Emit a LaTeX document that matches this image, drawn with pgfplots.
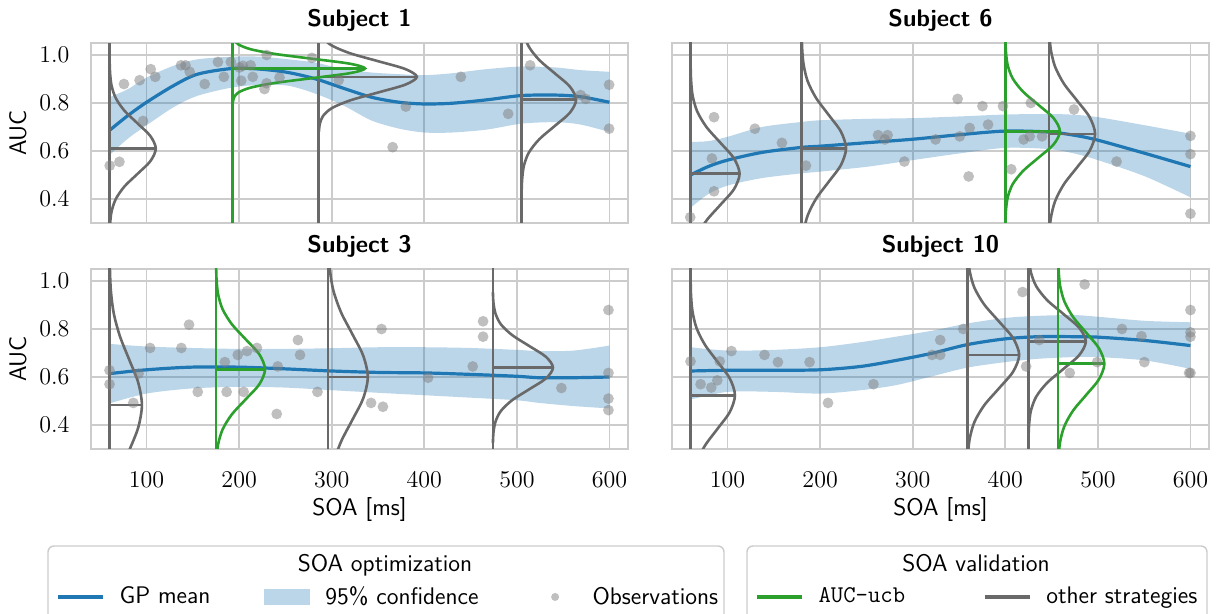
\documentclass[border=0pt]{standalone}
\usepackage{fontspec}
\usepackage{pgfplots}
\pgfplotsset{compat=1.18}
\usepgfplotslibrary{fillbetween}

\definecolor{c0}{RGB}{31,119,180}
\definecolor{c2}{RGB}{44,160,44}
\definecolor{dimg}{RGB}{105,105,105}
\definecolor{gridc}{RGB}{204,204,204}

\pgfplotsset{
  panel/.style={
    scale only axis, width=268.5pt, height=90pt, anchor=south west,
    xmin=40, xmax=620, ymin=0.3, ymax=1.05,
    xtick={100,200,300,400,500,600}, ytick={0.4,0.6,0.8,1.0},
    grid=major, grid style={draw=gridc, line width=0.85pt},
    axis line style={draw=gridc, line width=1.2pt},
    major tick length=0pt,
    /pgf/number format/assume math mode=true,
    tick label style={font=\fontsize{12}{14}\selectfont},
    yticklabel style={/pgf/number format/fixed, /pgf/number format/fixed zerofill,
      /pgf/number format/precision=1, anchor=east, inner sep=0pt, xshift=-10.6pt},
    xticklabel style={anchor=base, inner sep=0pt, yshift=-19.5pt},
    title style={font=\fontsize{12}{14}\selectfont\sffamily\bfseries,
      at={(axis description cs:0.5,1)}, anchor=base, yshift=2.2pt, inner sep=0pt},
    label style={font=\fontsize{12}{14}\selectfont\sffamily},
    ylabel style={at={(axis description cs:-0.136,0.5)}, anchor=center},
    xlabel style={at={(axis description cs:0.5,-0.367)}, anchor=base},
  },
  gpmean/.style={c0, line width=1.6pt, smooth},
  obs/.style={only marks, mark=*, mark size=2.7pt, color=gray,
    mark options={fill=gray, fill opacity=0.5, draw opacity=0}},
  gray gauss/.style={dimg, line width=1.3pt, smooth},
  green gauss/.style={c2, line width=1.3pt, smooth},
  gray stem/.style={dimg, line width=1.3pt},
  green stem/.style={c2, line width=1.3pt},
  leg/.style={legend style={draw=none, fill=none, inner sep=0pt,
    font=\fontsize{12}{14}\selectfont\sffamily, nodes={inner sep=0pt},
    /tikz/every odd column/.append style={column sep=7.5pt}}},
}

\begin{document}
\begin{tikzpicture}

% ---------------- Subject 1 ----------------
\begin{axis}[panel, at={(45.5pt,-111.5pt)}, title={Subject 1}, ylabel={AUC}, xticklabels={}]
\addplot[name path=u1, draw=none, smooth] coordinates {
  (60,0.824)(80,0.858)(100,0.906)(129,0.955)(155,0.982)(193,0.993)(223,0.993)(253,0.982)(283,0.968)(313,0.941)
  (343,0.927)(373,0.92)(400,0.916)(430,0.924)(467,0.941)(505,0.952)(542,0.948)(569,0.937)(600,0.93)};
\addplot[name path=l1, draw=none, smooth] coordinates {
  (60,0.583)(80,0.652)(100,0.707)(129,0.782)(155,0.830)(193,0.865)(223,0.875)(253,0.872)(283,0.838)(313,0.789)
  (343,0.727)(373,0.693)(400,0.677)(430,0.677)(467,0.689)(505,0.714)(542,0.72)(569,0.71)(600,0.679)};
\addplot[fill=c0, fill opacity=0.3, draw=none] fill between[of=u1 and l1];
\addplot[gpmean] coordinates {
  (60,0.686)(80,0.748)(100,0.803)(129,0.872)(155,0.92)(193,0.944)(223,0.941)(253,0.927)(283,0.90)(313,0.861)
  (343,0.824)(373,0.803)(400,0.796)(430,0.799)(467,0.813)(505,0.831)(542,0.833)(569,0.826)(600,0.803)};
\addplot[obs] coordinates {
  (60.2,0.539)(70.7,0.555)(75.6,0.879)(92.5,0.895)(96.2,0.725)(104.5,0.941)(109.4,0.909)(137.2,0.957)
  (142.1,0.957)(146.6,0.93)(162.8,0.879)(177.1,0.971)(183.5,0.909)(191,0.971)(200.4,0.948)(202.3,0.893)
  (204,0.955)(212.4,0.957)(214.7,0.909)(227.4,0.858)(229.7,0.882)(229.7,1.0)(243.6,0.906)(278.6,0.988)
  (307.5,0.895)(365.8,0.616)(380,0.785)(439.5,0.909)(490.6,0.755)(514.3,0.957)(568.8,0.833)(574.4,0.817)
  (599.6,0.876)(599.6,0.693)};
% AUC-ucb at 193 ms, other strategies at 60, 286, 505 ms
\addplot[gray stem] coordinates {(60,0.2)(60,1.1)};
\addplot[gray gauss] coordinates {
  (60.1,0.2425)(60.6,0.295)(62.2,0.3475)(66.8,0.40)(76.2,0.4525)(90.3,0.505)(104.1,0.5575)(110,0.61)
  (104.1,0.6625)(90.3,0.715)(76.2,0.7675)(66.8,0.82)(62.2,0.8725)(60.6,0.925)(60.1,0.9775)};
\addplot[gray stem] coordinates {(60,0.61)(110,0.61)};
\addplot[gray stem] coordinates {(286,0.2)(286,1.1)};
\addplot[gray gauss] coordinates {
  (286.2,0.6815)(287.2,0.714)(290.7,0.7465)(300.3,0.779)(320.4,0.8115)(350.3,0.844)(379.5,0.8765)(392,0.909)
  (379.5,0.9415)(350.3,0.974)(320.4,1.0065)(300.3,1.039)(290.7,1.0715)(287.2,1.104)(286.2,1.1365)};
\addplot[gray stem] coordinates {(286,0.909)(392,0.909)};
\addplot[gray stem] coordinates {(505,0.2)(505,1.1)};
\addplot[gray gauss] coordinates {
  (505.1,0.429)(505.7,0.484)(507.6,0.539)(513,0.594)(524.2,0.649)(540.8,0.704)(557.1,0.759)(564,0.814)
  (557.1,0.869)(540.8,0.924)(524.2,0.979)(513,1.034)(507.6,1.089)(505.7,1.144)(505.1,1.199)};
\addplot[gray stem] coordinates {(505,0.814)(564,0.814)};
\addplot[green stem] coordinates {(193,0.2)(193,1.1)};
\addplot[green gauss] coordinates {
  (193.3,0.804)(194.6,0.824)(199.3,0.844)(212.4,0.864)(239.4,0.884)(279.7,0.904)(319.2,0.924)(336,0.944)
  (319.2,0.964)(279.7,0.984)(239.4,1.004)(212.4,1.024)(199.3,1.044)(194.6,1.064)(193.3,1.084)};
\addplot[green stem] coordinates {(193,0.944)(336,0.944)};
\end{axis}

% ---------------- Subject 6 ----------------
\begin{axis}[panel, at={(336pt,-111.5pt)}, title={Subject 6}, xticklabels={}, yticklabels={}]
\addplot[name path=u2, draw=none, smooth] coordinates {
  (60,0.638)(79,0.641)(100,0.659)(137,0.70)(180,0.721)(200,0.728)(252,0.734)(300,0.737)(351,0.744)(400,0.752)
  (447,0.754)(474,0.751)(500,0.741)(551,0.707)(600,0.672)};
\addplot[name path=l2, draw=none, smooth] coordinates {
  (60,0.363)(79,0.42)(100,0.456)(137,0.487)(180,0.507)(200,0.514)(252,0.535)(300,0.562)(351,0.59)(400,0.613)
  (447,0.608)(474,0.59)(500,0.562)(551,0.494)(600,0.407)};
\addplot[fill=c0, fill opacity=0.3, draw=none] fill between[of=u2 and l2];
\addplot[gpmean] coordinates {
  (60,0.50)(79,0.535)(100,0.562)(137,0.594)(180,0.615)(200,0.62)(252,0.635)(300,0.649)(351,0.668)(400,0.683)
  (447,0.679)(474,0.666)(500,0.645)(551,0.59)(600,0.535)};
\addplot[obs] coordinates {
  (59.7,0.324)(85.4,0.741)(83.1,0.569)(85.4,0.432)(129.5,0.693)(158.7,0.634)(184.7,0.539)(262.6,0.666)
  (272.9,0.666)(269.9,0.648)(291,0.556)(324.7,0.648)(348.5,0.817)(350.8,0.661)(361.5,0.696)(360.4,0.494)
  (375.3,0.787)(381.4,0.71)(397.5,0.787)(406.4,0.524)(427.5,0.80)(419.8,0.648)(426.3,0.661)(439.7,0.661)
  (474.2,0.773)(520.2,0.556)(600,0.663)(600,0.587)(600,0.339)};
\addplot[gray stem] coordinates {(60,0.2)(60,1.1)};
\addplot[gray gauss] coordinates {
  (60.1,0.05)(60.6,0.115)(62.3,0.18)(67.2,0.245)(77.2,0.31)(92.1,0.375)(106.8,0.44)(113,0.505)
  (106.8,0.57)(92.1,0.635)(77.2,0.70)(67.2,0.765)(62.3,0.83)(60.6,0.895)(60.1,0.96)};
\addplot[gray stem] coordinates {(60,0.505)(113,0.505)};
\addplot[gray stem] coordinates {(180,0.2)(180,1.1)};
\addplot[gray gauss] coordinates {
  (180.1,0.121)(180.5,0.191)(182.1,0.261)(186.5,0.331)(195.6,0.401)(209.1,0.471)(222.4,0.541)(228,0.611)
  (222.4,0.681)(209.1,0.751)(195.6,0.821)(186.5,0.891)(182.1,0.961)(180.5,1.031)(180.1,1.101)};
\addplot[gray stem] coordinates {(180,0.611)(228,0.611)};
\addplot[gray stem] coordinates {(447,0.2)(447,1.1)};
\addplot[gray gauss] coordinates {
  (447.1,0.181)(447.6,0.251)(449.2,0.321)(453.8,0.391)(463.2,0.461)(477.3,0.531)(491.1,0.601)(497,0.671)
  (491.1,0.741)(477.3,0.811)(463.2,0.881)(453.8,0.951)(449.2,1.021)(447.6,1.091)(447.1,1.161)};
\addplot[gray stem] coordinates {(447,0.671)(497,0.671)};
\addplot[green stem] coordinates {(400,0.2)(400,1.1)};
\addplot[green gauss] coordinates {
  (400.1,0.297)(400.7,0.352)(402.6,0.407)(408,0.462)(419.2,0.517)(435.8,0.572)(452.1,0.627)(459,0.682)
  (452.1,0.737)(435.8,0.792)(419.2,0.847)(408,0.902)(402.6,0.957)(400.7,1.012)(400.1,1.067)};
\addplot[green stem] coordinates {(400,0.682)(459,0.682)};
\end{axis}

% ---------------- Subject 3 ----------------
\begin{axis}[panel, at={(45.5pt,-224.5pt)}, title={Subject 3}, ylabel={AUC}, xlabel={SOA [ms]},
  leg, legend columns=3,
  legend style={at={(axis description cs:-0.065,-0.822)}, anchor=west,
    /tikz/every even column/.append style={column sep=27pt}}]
\addlegendimage{legend image code/.code={\path[draw=none, fill=none] (0pt,-4pt) rectangle (22.5pt,4pt);
  \draw[c0, line width=1.6pt] (0pt,0pt) -- (22.5pt,0pt);}}
\addlegendentry{GP mean}
\addlegendimage{legend image code/.code={\path[draw=none, fill=none] (0pt,-4pt) rectangle (22.5pt,4pt);
  \fill[c0, fill opacity=0.3, draw=none] (0pt,-3.8pt) rectangle (23pt,3.8pt);}}
\addlegendentry{95\% confidence}
\addlegendimage{legend image code/.code={\path[draw=none, fill=none] (0pt,-4pt) rectangle (22.5pt,4pt);
  \fill[gray, fill opacity=0.5, draw=none] (11.25pt,0pt) circle (2pt);}}
\addlegendentry{Observations}
\addplot[name path=u3, draw=none, smooth] coordinates {
  (60,0.738)(100,0.727)(148,0.721)(200,0.717)(249,0.717)(300,0.72)(351,0.724)(400,0.724)(449,0.721)(500,0.713)
  (524,0.708)(561,0.71)(600,0.731)};
\addplot[name path=l3, draw=none, smooth] coordinates {
  (60,0.49)(100,0.531)(148,0.552)(200,0.559)(249,0.556)(300,0.545)(351,0.534)(400,0.524)(449,0.514)(500,0.503)
  (524,0.492)(561,0.479)(600,0.469)};
\addplot[fill=c0, fill opacity=0.3, draw=none] fill between[of=u3 and l3];
\addplot[gpmean] coordinates {
  (60,0.614)(100,0.630)(148,0.641)(200,0.641)(249,0.634)(300,0.625)(351,0.619)(400,0.617)(449,0.611)(500,0.603)
  (524,0.597)(561,0.597)(600,0.60)};
\addplot[obs] coordinates {
  (60,0.628)(60,0.570)(91.4,0.614)(85.7,0.492)(103.8,0.721)(137.6,0.721)(145.9,0.818)(155.3,0.538)
  (184.6,0.662)(186.5,0.538)(198.5,0.692)(204.9,0.538)(208.6,0.708)(219.2,0.721)(240.6,0.446)(241.7,0.644)
  (263.5,0.754)(265.8,0.692)(284.6,0.538)(342.5,0.492)(353.8,0.80)(355.3,0.476)(404.1,0.597)(452.3,0.644)
  (463.5,0.832)(463.5,0.768)(548.1,0.554)(598.9,0.879)(598.9,0.617)(598.9,0.51)(598.9,0.462)};
\addplot[gray stem] coordinates {(60,0.2)(60,1.1)};
\addplot[gray gauss] coordinates {
  (60.1,-0.182)(60.4,-0.087)(61.5,0.008)(64.7,0.103)(71.4,0.198)(81.2,0.293)(90.9,0.388)(95,0.483)
  (90.9,0.578)(81.2,0.673)(71.4,0.768)(64.7,0.863)(61.5,0.958)(60.4,1.053)(60.1,1.148)};
\addplot[gray stem] coordinates {(60,0.483)(95,0.483)};
\addplot[gray stem] coordinates {(296,0.2)(296,1.1)};
\addplot[gray gauss] coordinates {
  (296.1,-0.03)(296.5,0.06)(297.9,0.15)(301.8,0.24)(310,0.33)(322.1,0.42)(333.9,0.51)(339,0.60)
  (333.9,0.69)(322.1,0.78)(310,0.87)(301.8,0.96)(297.9,1.05)(296.5,1.14)(296.1,1.23)};
\addplot[gray stem] coordinates {(296,0.60)(339,0.60)};
\addplot[gray stem] coordinates {(474,0.2)(474,1.1)};
\addplot[gray gauss] coordinates {
  (474.1,0.324)(474.7,0.369)(476.9,0.414)(482.8,0.459)(495.1,0.504)(513.4,0.549)(531.4,0.594)(539,0.639)
  (531.4,0.684)(513.4,0.729)(495.1,0.774)(482.8,0.819)(476.9,0.864)(474.7,0.909)(474.1,0.954)};
\addplot[gray stem] coordinates {(474,0.639)(539,0.639)};
\addplot[green stem] coordinates {(175,0.2)(175,1.1)};
\addplot[green gauss] coordinates {
  (175.1,0.1945)(175.6,0.257)(177.3,0.3195)(182.2,0.382)(192.2,0.4445)(207.1,0.507)(221.8,0.5695)(228,0.632)
  (221.8,0.6945)(207.1,0.757)(192.2,0.8195)(182.2,0.882)(177.3,0.9445)(175.6,1.007)(175.1,1.0695)};
\addplot[green stem] coordinates {(175,0.632)(228,0.632)};
\end{axis}

% ---------------- Subject 10 ----------------
\begin{axis}[panel, at={(336pt,-224.5pt)}, title={Subject 10}, xlabel={SOA [ms]}, yticklabels={},
  leg, legend columns=2,
  legend style={at={(axis description cs:0.1546,-0.822)}, anchor=west,
    /tikz/every even column/.append style={column sep=39pt}}]
\addlegendimage{legend image code/.code={\path[draw=none, fill=none] (0pt,-4pt) rectangle (22.5pt,4pt);
  \draw[c2, line width=1.6pt] (0pt,0pt) -- (22.5pt,0pt);}}
\addlegendentry{\texttt{AUC-ucb}}
\addlegendimage{legend image code/.code={\path[draw=none, fill=none] (0pt,-4pt) rectangle (22.5pt,4pt);
  \draw[dimg, line width=1.6pt] (0pt,0pt) -- (22.5pt,0pt);}}
\addlegendentry{other strategies}
\addplot[name path=u4, draw=none, smooth] coordinates {
  (60,0.724)(100,0.71)(150,0.713)(200,0.724)(244,0.745)(282,0.768)(321,0.793)(359,0.823)(400,0.846)(436,0.855)
  (474,0.858)(500,0.851)(551,0.834)(600,0.828)};
\addplot[name path=l4, draw=none, smooth] coordinates {
  (60,0.506)(100,0.538)(150,0.538)(200,0.531)(244,0.545)(282,0.566)(321,0.603)(359,0.639)(400,0.662)(436,0.676)
  (474,0.683)(500,0.683)(551,0.669)(600,0.634)};
\addplot[fill=c0, fill opacity=0.3, draw=none] fill between[of=u4 and l4];
\addplot[gpmean] coordinates {
  (60,0.625)(100,0.628)(150,0.628)(200,0.63)(244,0.644)(282,0.669)(321,0.699)(359,0.735)(400,0.759)(436,0.768)
  (474,0.768)(500,0.766)(551,0.752)(600,0.731)};
\addplot[obs] coordinates {
  (60,0.665)(70.9,0.57)(82.4,0.556)(88.9,0.586)(91.6,0.665)(104.2,0.708)(139.9,0.692)(154.4,0.662)
  (188.6,0.662)(208.5,0.492)(257.6,0.57)(320.9,0.692)(329.7,0.692)(329.7,0.754)(354.6,0.80)(418.6,0.954)
  (422.5,0.644)(436.7,0.754)(469.6,0.617)(485.7,0.986)(499.2,0.662)(526,0.80)(547.1,0.77)(550.2,0.662)
  (600,0.879)(600,0.786)(600,0.768)(600,0.617)(598.5,0.617)};
\addplot[gray stem] coordinates {(60,0.2)(60,1.1)};
\addplot[gray gauss] coordinates {
  (60.1,0.034)(60.5,0.104)(62.1,0.174)(66.5,0.244)(75.6,0.314)(89.1,0.384)(102.4,0.454)(108,0.524)
  (102.4,0.594)(89.1,0.664)(75.6,0.734)(66.5,0.804)(62.1,0.874)(60.5,0.944)(60.1,1.014)};
\addplot[gray stem] coordinates {(60,0.524)(108,0.524)};
\addplot[gray stem] coordinates {(359,0.2)(359,1.1)};
\addplot[gray gauss] coordinates {
  (359.1,0.202)(359.6,0.272)(361.5,0.342)(366.6,0.412)(377.2,0.482)(393,0.552)(408.4,0.622)(415,0.692)
  (408.4,0.762)(393,0.832)(377.2,0.902)(366.6,0.972)(361.5,1.042)(359.6,1.112)(359.1,1.182)};
\addplot[gray stem] coordinates {(359,0.692)(415,0.692)};
\addplot[gray stem] coordinates {(425,0.2)(425,1.1)};
\addplot[gray gauss] coordinates {
  (425.1,0.3455)(425.7,0.403)(427.7,0.4605)(433.4,0.518)(445.1,0.5755)(462.6,0.633)(479.7,0.6905)(487,0.748)
  (479.7,0.8055)(462.6,0.863)(445.1,0.9205)(433.4,0.978)(427.7,1.0355)(425.7,1.093)(425.1,1.1505)};
\addplot[gray stem] coordinates {(425,0.748)(487,0.748)};
\addplot[green stem] coordinates {(457,0.2)(457,1.1)};
\addplot[green gauss] coordinates {
  (457.1,0.20)(457.6,0.265)(459.2,0.33)(463.8,0.395)(473.2,0.46)(487.3,0.525)(501.1,0.59)(507,0.655)
  (501.1,0.72)(487.3,0.785)(473.2,0.85)(463.8,0.915)(459.2,0.98)(457.6,1.045)(457.1,1.11)};
\addplot[green stem] coordinates {(457,0.655)(507,0.655)};
\end{axis}

% legend frames and titles
\draw[gridc, line width=0.7pt, rounded corners=3pt] (24pt,-273pt) rectangle (362pt,-330pt);
\draw[gridc, line width=0.7pt, rounded corners=3pt] (373.5pt,-273pt) rectangle (603.5pt,-330pt);
\node[font=\fontsize{12}{14}\selectfont\sffamily, anchor=base] at (192.5pt,-286pt) {SOA optimization};
\node[font=\fontsize{12}{14}\selectfont\sffamily, anchor=base] at (488pt,-286pt) {SOA validation};

\pgfresetboundingbox
\useasboundingbox (0pt,0pt) rectangle (608.5pt,-307pt);
\end{tikzpicture}
\end{document}
